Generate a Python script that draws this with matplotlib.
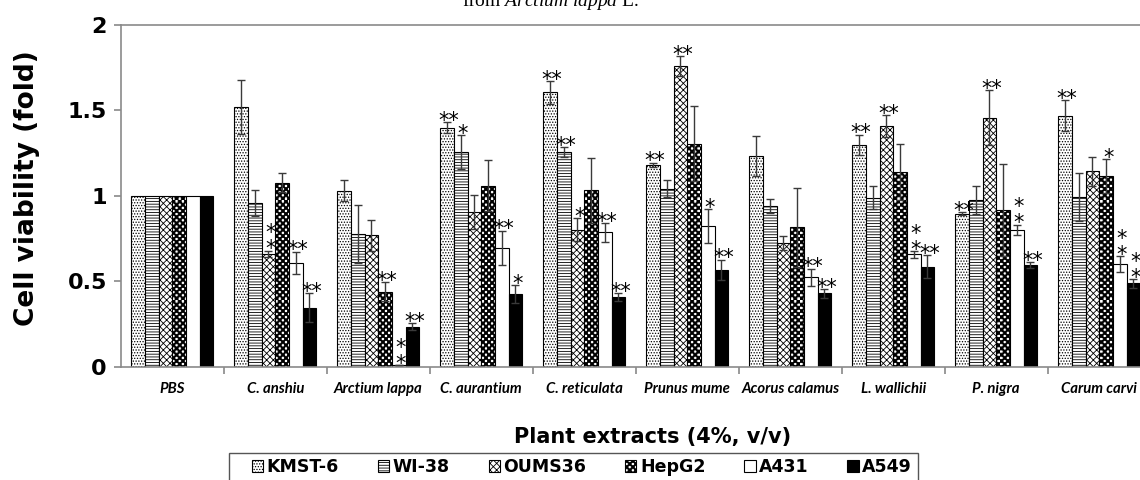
import warnings
import numpy as np
import matplotlib
matplotlib.use("Agg")
import matplotlib.pyplot as plt
import matplotlib.hatch as mhatch
from matplotlib.path import Path
from matplotlib.patches import Rectangle

warnings.filterwarnings("ignore")

# data
groups = ["PBS", "C. anshiu", "Arctium lappa", "C. aurantium", "C. reticulata",
          "Prunus mume", "Acorus calamus", "L. wallichii", "P. nigra", "Carum carvi"]
cells = ["KMST-6", "WI-38", "OUMS36", "HepG2", "A431", "A549"]

kmst6 = [1.0, 1.52, 1.03, 1.40, 1.605, 1.18, 1.235, 1.30, 0.895, 1.47]
kmst6_err = [0, 0.16, 0.06, 0.03, 0.066, 0.013, 0.117, 0.058, 0.01, 0.09]
kmst6_sig = ["", "", "", "**", "**", "**", "", "**", "**", "**"]

wi38 = [1.0, 0.96, 0.775, 1.255, 1.255, 1.043, 0.942, 0.99, 0.975, 0.992]
wi38_err = [0, 0.076, 0.17, 0.1, 0.03, 0.05, 0.04, 0.068, 0.084, 0.14]
wi38_sig = ["", "", "", "*", "**", "", "", "", "", ""]

oums36 = [1.0, 0.66, 0.77, 0.907, 0.803, 1.76, 0.725, 1.408, 1.458, 1.144]
oums36_err = [0, 0.02, 0.09, 0.1, 0.067, 0.057, 0.04, 0.065, 0.16, 0.085]
oums36_sig = ["", "*\n*", "", "", "*", "**", "", "**", "**", ""]

hepg2 = [1.0, 1.078, 0.44, 1.06, 1.033, 1.306, 0.815, 1.14, 0.916, 1.115]
hepg2_err = [0, 0.055, 0.055, 0.15, 0.19, 0.22, 0.23, 0.165, 0.27, 0.1]
hepg2_sig = ["", "", "**", "", "", "", "", "", "", "*"]

a431 = [1.0, 0.608, 0.01, 0.696, 0.786, 0.823, 0.523, 0.657, 0.80, 0.60]
a431_err = [0, 0.065, 0, 0.1, 0.055, 0.1, 0.05, 0.02, 0.03, 0.047]
a431_sig = ["", "**", "*\n*", "**", "**", "*", "**", "*\n*", "*\n*", "*\n*"]

a549 = [1.0, 0.345, 0.234, 0.425, 0.406, 0.567, 0.429, 0.585, 0.595, 0.488]
a549_err = [0, 0.085, 0.02, 0.053, 0.024, 0.06, 0.025, 0.066, 0.017, 0.025]
a549_sig = ["", "**", "**", "*", "**", "**", "**", "**", "**", "*\n*"]

values = [kmst6, wi38, oums36, hepg2, a431, a549]
errors = [kmst6_err, wi38_err, oums36_err, hepg2_err, a431_err, a549_err]
sigs = [kmst6_sig, wi38_sig, oums36_sig, hepg2_sig, a431_sig, a549_sig]


# checkerboard hatch for HepG2 (triggered by 'c')
class CheckerHatch(mhatch.HatchPatternBase):
    def __init__(self, hatch, density):
        self.n = 32 if "c" in hatch else 0
        self.num_vertices = 5 * (self.n * self.n // 2)

    def set_vertices_and_codes(self, vertices, codes):
        n = self.n
        s = 1.0 / n
        k = 0
        for i in range(n):
            for j in range(n):
                if (i + j) % 2 == 0:
                    x0, y0 = i * s, j * s
                    vertices[k:k + 5] = [(x0, y0), (x0 + s, y0), (x0 + s, y0 + s),
                                         (x0, y0 + s), (x0, y0)]
                    codes[k:k + 5] = [Path.MOVETO, Path.LINETO, Path.LINETO,
                                      Path.LINETO, Path.CLOSEPOLY]
                    k += 5


mhatch._hatch_types.append(CheckerHatch)

plt.rcParams["hatch.linewidth"] = 0.6
plt.rcParams["mathtext.fontset"] = "custom"
plt.rcParams["mathtext.rm"] = "Liberation Serif"
plt.rcParams["mathtext.it"] = "Liberation Serif:italic"

hatches = ["......", "------", "xxxxx", "c", "", ""]
faces = ["white", "white", "white", "white", "white", "black"]

W, H = 1140, 480
fig = plt.figure(figsize=(W / 100, H / 100), dpi=100)
ax = fig.add_axes([120.7 / W, 113.3 / H, 1030 / W, 341.7 / H])

x = np.arange(len(groups))
bw = 0.133
for k, name in enumerate(cells):
    off = (k - 2.5) * bw
    ax.bar(x + off, values[k], bw, color=faces[k], edgecolor="black",
           hatch=hatches[k], linewidth=0.8, label=name, zorder=2)
    v = np.array(values[k])
    e = np.array(errors[k])
    ax.errorbar(x[1:] + off, v[1:], yerr=e[1:], fmt="none", ecolor="#3a3a3a",
                elinewidth=1.0, capsize=3, capthick=1.0, zorder=3)
    for i, s in enumerate(sigs[k]):
        if not s:
            continue
        top = v[i] + e[i]
        ax.text(x[i] + off + 0.02, top - 0.05, s, ha="center", va="bottom",
                fontsize=15, family="DejaVu Sans", linespacing=0.75, zorder=4)

ax.set_xlim(-0.5, 9.5)
ax.set_ylim(0, 2)
ax.set_yticks([0, 0.5, 1, 1.5, 2])
ax.set_yticklabels(["0", "0.5", "1", "1.5", "2"], fontsize=16,
                   fontweight="bold", family="DejaVu Sans")
ax.set_xticks(x)
ax.set_xticklabels(groups, fontsize=10.7, fontweight="bold", style="italic",
                   family="Lato")
ax.set_xticks(np.arange(0.5, 10, 1), minor=True)
ax.tick_params(axis="x", which="major", length=0, pad=11)
ax.tick_params(axis="x", which="minor", length=5, direction="out",
               color="#7f7f7f", width=1.1)
ax.tick_params(axis="y", length=5, direction="out", color="#7f7f7f",
               width=1.1, pad=5)
for sp in ax.spines.values():
    sp.set_color("#8a8a8a")
    sp.set_linewidth(1.2)

fig.text(27 / W, 1 - 188 / H, "Cell viability (fold)", rotation=90,
         ha="center", va="center", fontsize=19, fontweight="bold",
         family="DejaVu Sans")
fig.text(653 / W, 1 - 437 / H, "Plant extracts (4%, v/v)", ha="center",
         va="center", fontsize=15, fontweight="bold", family="DejaVu Sans")
fig.text(551 / W, 1 - 6 / H, r"from $\mathit{Arctium\ lappa}$ L.",
         ha="center", va="baseline", fontsize=14, family="Liberation Serif")

ax.legend(loc="upper left", bbox_to_anchor=(252 / W, 0, 660 / W, 1 - 458 / H),
          bbox_transform=fig.transFigure, mode="expand", ncol=6,
          frameon=False, borderpad=0, borderaxespad=0, handlelength=0.65,
          handleheight=0.65, handletextpad=0.2,
          prop=dict(family="DejaVu Sans", weight="bold", size=12.5))
fig.add_artist(Rectangle((229 / W, -0.1), (918 - 229) / W, 1 - 452.7 / H + 0.1,
                         transform=fig.transFigure, fill=False,
                         edgecolor="#555555", linewidth=1.0))

fig.savefig("out.png", dpi=100)
